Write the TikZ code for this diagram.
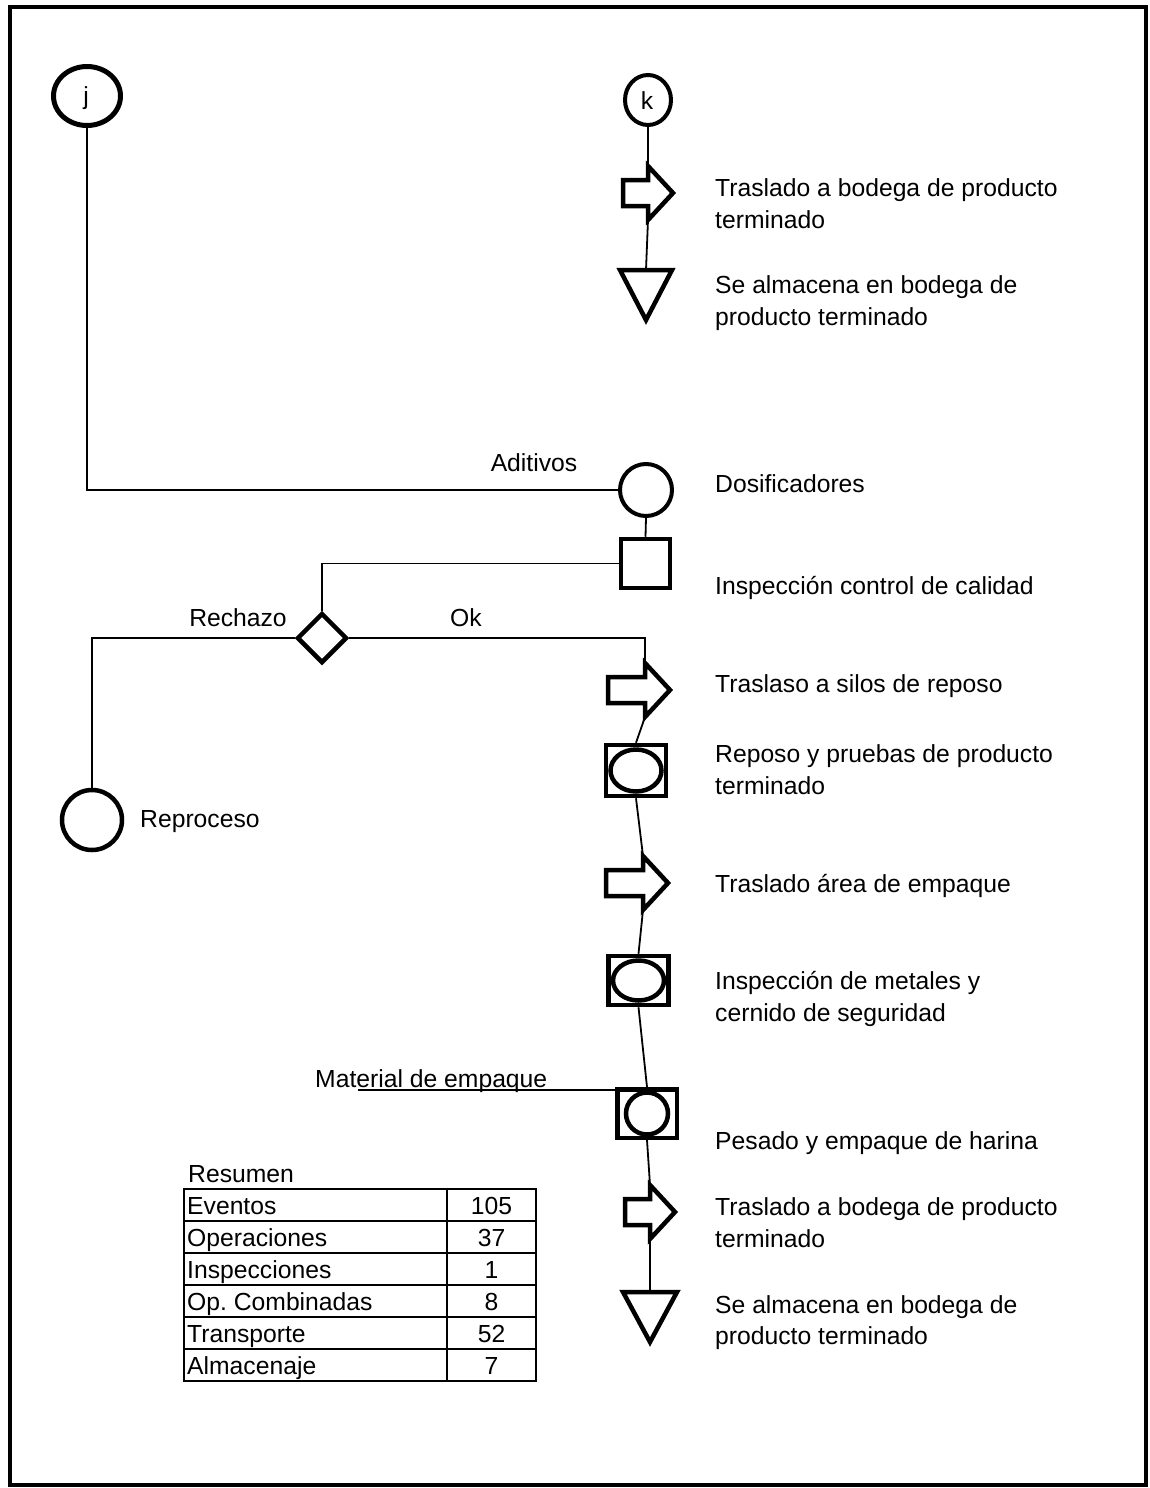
\documentclass[tikz,border=0pt]{standalone}
\usepackage{fontspec}
\setmainfont{Liberation Sans}
\usetikzlibrary{shapes.geometric}

\newcommand\lblfont{\fontsize{24.7pt}{32pt}\selectfont}

% transport symbol: #1 name, #2 x of the head base, #3 centre y, #4 x of the tail
\newcommand\transporte[4]{%
  \draw[sym] (#4,#3-13) -- (#2,#3-13) -- (#2,#3-27) -- (#2+25,#3)
    -- (#2,#3+27) -- (#2,#3+13) -- (#4,#3+13) -- cycle;
  \coordinate (#1-n) at (#2,#3-27);
  \coordinate (#1-s) at (#2,#3+27);}

% storage symbol: #1 name, #2 centre x, #3 top y, #4 bottom y, #5 half width
\newcommand\almacen[5]{%
  \draw[sym] (#2-#5,#3) -- (#2+#5,#3) -- (#2,#4) -- cycle;
  \coordinate (#1-n) at (#2,#3);}

\begin{document}
\frenchspacing
\begin{tikzpicture}[x=1pt,y=-1pt,
  sym/.style={draw, line width=4.5pt, fill=white, inner sep=0pt, line join=miter},
  conn/.style={line width=1.8pt},
  lbl/.style={anchor=base west, inner sep=0pt, font=\lblfont},
  clbl/.style={anchor=base, inner sep=0pt, font=\lblfont},
  grid/.style={line width=2.5pt}]

\useasboundingbox (0,0) rectangle (1149,1488);
\draw[line width=4pt] (10,7) rectangle (1146,1485);

% ---------- connectors j and k ----------
\node[sym, ellipse, line width=5pt, minimum width=67, minimum height=59] (j) at (87,96) {};
\node[clbl] (jl) at (86,104) {j};
\node[sym, ellipse, line width=4pt, minimum width=46, minimum height=50] (k) at (648,100) {};
\node[clbl] (kl) at (647,109) {k};

% ---------- final storage after k ----------
\transporte{tk}{648}{193}{623}
\almacen{ak}{646}{270}{320}{26}
\draw[conn] (k.south) -- (tk-n);
\draw[conn] (tk-s) -- (ak-n);
\node[lbl] (tka) at (715,196) {Traslado a bodega de producto};
\node[lbl] (tkb) at (715,228) {terminado};
\node[lbl] (aka) at (715,293) {Se almacena en bodega de};
\node[lbl] (akb) at (715,325) {producto terminado};

% ---------- dosing and quality control ----------
\node[sym, circle, line width=4pt, minimum size=52] (dos) at (646,490) {};
\node[sym, rectangle, minimum size=49] (insp) at (645.5,563.5) {};
\node[sym, diamond, minimum width=50, minimum height=50] (dec) at (322,638) {};
\node[sym, circle, minimum size=60] (rep) at (92,820) {};

\draw[conn] (j.south) -- (j.south |- dos.west) -- (dos.west);
\draw[conn] (dos.south) -- (insp.north);
\draw[conn] (insp.west) -- (insp.west -| dec.north) -- (dec.north);
\draw[conn] (dec.west) -- (dec.west -| rep.north) -- (rep.north);

\node[clbl] (adi) at (534,471) {Aditivos};
\node[lbl] (dosl) at (715,492) {Dosificadores};
\node[lbl] (inspl) at (715,594) {Inspección control de calidad};
\node[clbl] (rech) at (238,626) {Rechazo};
\node[clbl] (ok) at (466,626) {Ok};
\node[lbl] (repl) at (140,827) {Reproceso};

% ---------- main line to packing ----------
\transporte{t2}{645}{690}{608}
\draw[conn] (dec.east) -- (dec.east -| t2-n) -- (t2-n);

\node[sym, rectangle, minimum width=60, minimum height=51] (c1) at (636,770.5) {};
\draw[line width=4.5pt] (c1.center) ellipse (25.5 and 21);
\draw[conn] (t2-s) -- (c1.north);

\transporte{t3}{643}{883}{606}
\draw[conn] (c1.south) -- (t3-n);

\node[sym, rectangle, minimum width=60, minimum height=49] (c2) at (638.5,980.5) {};
\draw[line width=4.5pt] (c2.center) ellipse (25.5 and 20);
\draw[conn] (t3-s) -- (c2.north);

\node[sym, rectangle, minimum width=59.5, minimum height=48.5] (c3) at (647,1113.5) {};
\draw[line width=4.5pt] (c3.center) circle (21);
\draw[conn] (c2.south) -- (c3.north);

\coordinate (mat) at (358,1090);
\draw[conn] (mat) -- (mat -| c3.west);

\transporte{t4}{650}{1212}{625}
\draw[conn] (c3.south) -- (t4-n);
\almacen{a4}{650}{1292}{1342}{27}
\draw[conn] (t4-s) -- (a4-n);

\node[lbl] (t2l) at (715,692) {Traslaso a silos de reposo};
\node[lbl] (c1a) at (715,762) {Reposo y pruebas de producto};
\node[lbl] (c1b) at (715,794) {terminado};
\node[lbl] (t3l) at (715,892) {Traslado área de empaque};
\node[lbl] (c2a) at (715,989) {Inspección de metales y};
\node[lbl] (c2b) at (715,1021) {cernido de seguridad};
\node[lbl] (matl) at (315,1087) {Material de empaque};
\node[lbl] (c3l) at (715,1149) {Pesado y empaque de harina};
\node[lbl] (t4a) at (715,1215) {Traslado a bodega de producto};
\node[lbl] (t4b) at (715,1247) {terminado};
\node[lbl] (a4a) at (715,1313) {Se almacena en bodega de};
\node[lbl] (a4b) at (715,1344) {producto terminado};

% ---------- summary table ----------
\node[lbl] (res) at (188,1182) {Resumen};
\draw[grid] (184,1189) rectangle (536,1381);
\foreach \yy in {1221,1253,1285,1317,1349} \draw[grid] (184,\yy) -- (536,\yy);
\draw[grid] (447,1189) -- (447,1381);
\foreach \nm/\txt/\num/\yy in {ev/Eventos/105/1214, op/Operaciones/37/1246,
    in/Inspecciones/1/1278, oc/Op. Combinadas/8/1310, tr/Transporte/52/1342,
    al/Almacenaje/7/1374} {
  \node[lbl] (r-\nm) at (187,\yy) {\txt};
  \node[clbl] (v-\nm) at (491.5,\yy) {\num};
}
\end{tikzpicture}
\end{document}
